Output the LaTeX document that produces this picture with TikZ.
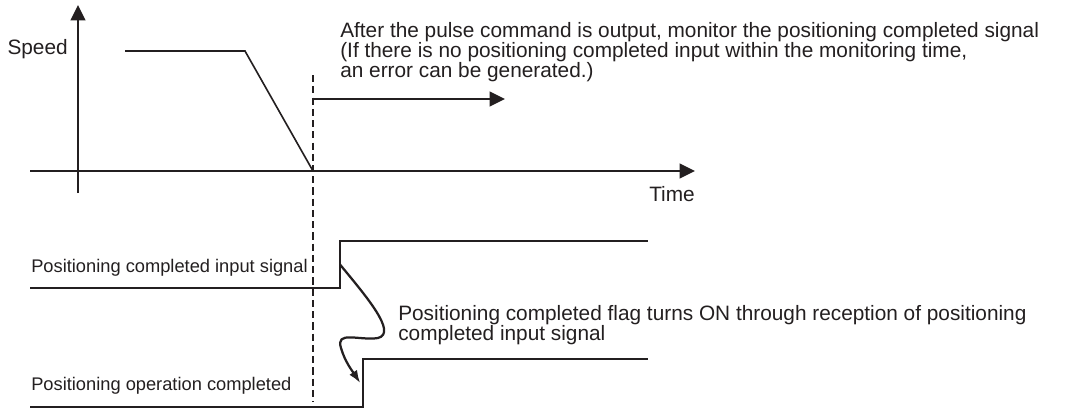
\documentclass[tikz,border=0pt]{standalone}
\usepackage{fontspec}
\setmainfont{Liberation Sans}
\usetikzlibrary{arrows.meta,calc}
\definecolor{ink}{RGB}{35,31,32}

\begin{document}
\begin{tikzpicture}[
  x=0.025cm, y=-0.025cm,
  >={Triangle[length=11pt, width=10.5pt]},
  axis/.style={->, line width=1.6pt, draw=ink},
  sig/.style={line width=1.15pt, draw=ink},
  guide/.style={line width=1pt, draw=ink, dash pattern=on 5pt off 3pt},
  lbl/.style={font=\fontsize{14.8}{14.2}\selectfont, inner sep=0pt, text=ink, align=left},
  siglbl/.style={font=\fontsize{13}{14}\selectfont, inner sep=0pt, text=ink, anchor=base west},
  flag/.style={-{Latex[length=9pt, width=6.5pt]}, line width=1.6pt, draw=ink},
]
\useasboundingbox (0,0) rectangle (1065,408);

% axes
\coordinate (yo)   at (78,193);
\coordinate (ytop) at (78,5);
\coordinate (xl)   at (30,171);
\coordinate (xr)   at (695,171);
\draw[axis] (yo) -- (ytop);
\draw[axis] (xl) -- (xr);
\node[lbl, anchor=base east] (speed) at (68,54.5) {Speed};
\node[lbl, anchor=base east] (time)  at (695,201) {Time};

% speed profile
\coordinate (v0)   at (125,51);
\coordinate (v1)   at (245,51);
\coordinate (stop) at (313,171);
\draw[sig] (v0) -- (v1) -- (stop);

% monitoring start
\coordinate (gtop) at (313,75);
\coordinate (gbot) at (313,402);
\draw[guide] (gtop) -- (gbot);
\coordinate (mon0) at (313,99);
\coordinate (mon1) at (505,99);
\draw[axis, line width=1.4pt] (mon0) -- (mon1);
\node[lbl, anchor=base west] (note) at (340,77)
  {After the pulse command is output, monitor the positioning completed signal\\
   (If there is no positioning completed input within the monitoring time,\\
   an error can be generated.)};

% input signal
\coordinate (in0)  at (30,288);
\coordinate (inlo) at (340,288);
\coordinate (inhi) at (340,241);
\coordinate (in1)  at (648,241);
\draw[sig] (in0) -- (inlo) -- (inhi) -- (in1);
\node[siglbl] (inlbl) at (31,272) {Positioning completed input signal};

% operation completed flag
\coordinate (op0)  at (30,407);
\coordinate (oplo) at (363,407);
\coordinate (ophi) at (363,359);
\coordinate (op1)  at (648,359);
\draw[sig] (op0) -- (oplo) -- (ophi) -- (op1);
\node[siglbl] (oplbl) at (31,390) {Positioning operation completed};

% reception
\coordinate (from) at ($(inlo)!0.5!(inhi)$);
\coordinate (to)   at ($(oplo)!0.5!(ophi)$);
\draw[flag] (from) .. controls (365,295) and (398,333) .. (378,338)
  .. controls (360,341) and (335,330) .. (341,348)
  .. controls (345,362) and (353,372) .. ([xshift=-2]to);
\node[lbl, anchor=base west] (flagtxt) at (398,340)
  {Positioning completed flag turns ON through reception of positioning\\
   completed input signal};

\end{tikzpicture}
\end{document}
